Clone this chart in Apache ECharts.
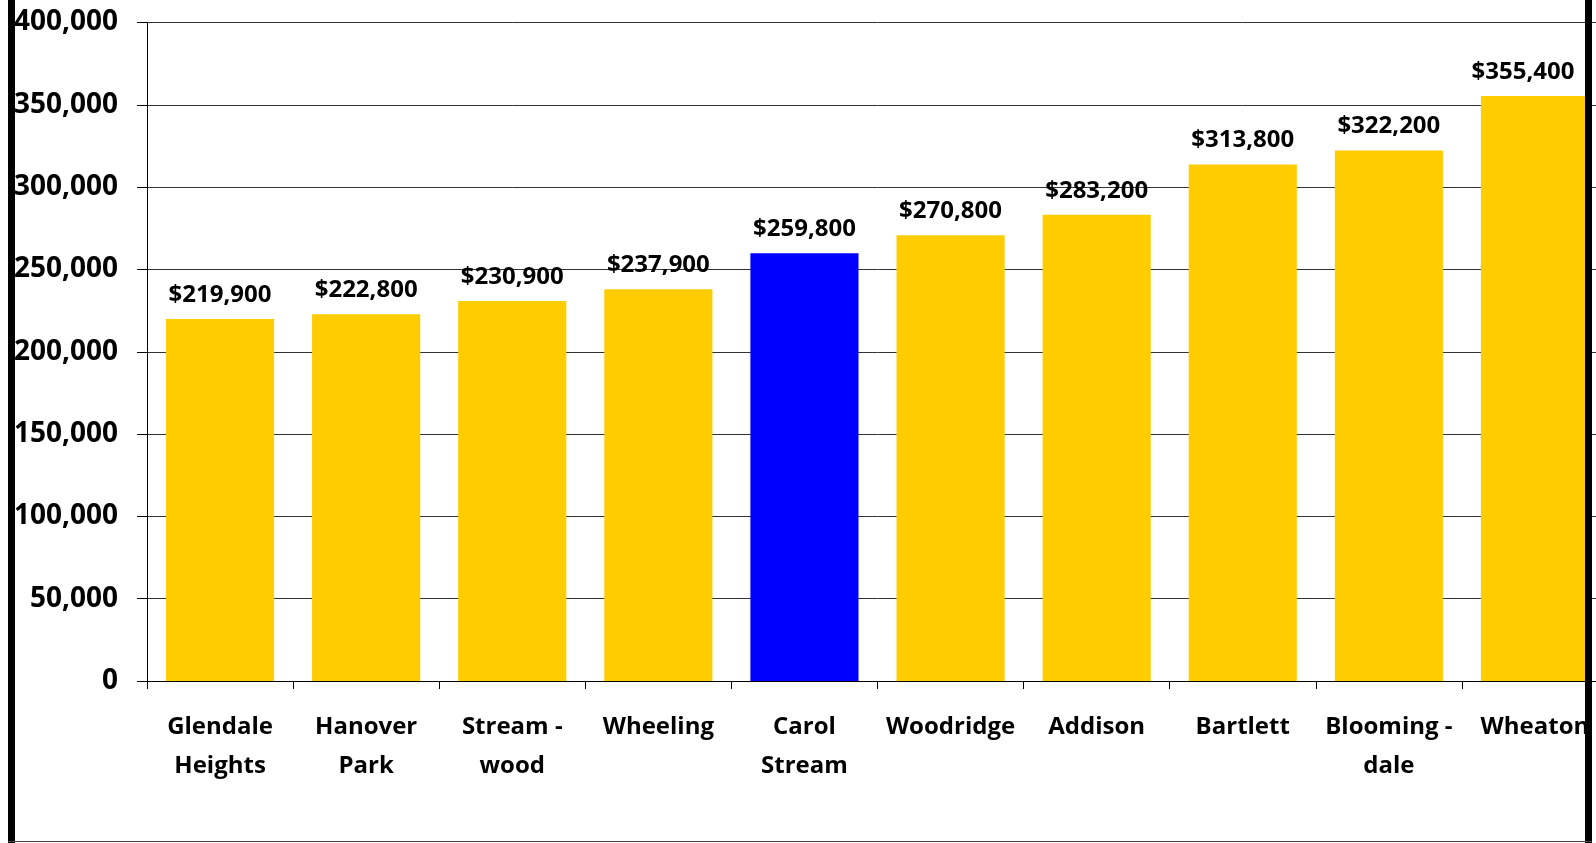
<!DOCTYPE html>
<html>
<head>
<meta charset="utf-8">
<style>
  html, body { margin: 0; padding: 0; background: #fff; }
  #wrap { position: relative; width: 1596px; height: 843px; overflow: hidden; }
  #chart { position: absolute; left: 0; top: 0; width: 1610px; height: 843px; }
  .edge { position: absolute; background: #000; z-index: 5; }
</style>
<script src="https://cdn.jsdelivr.net/npm/echarts@6/dist/echarts.min.js"></script>
</head>
<body>
<div id="wrap">
  <div id="chart"></div>
  <div class="edge" style="left:8px;top:0;width:7px;height:843px;"></div>
  <div class="edge" style="left:1585px;top:0;width:7px;height:843px;"></div>
  <div class="edge" style="left:8px;top:841px;width:1584px;height:1px;background:#444;"></div>
</div>
<script>
// Median home value by community
const communities = [
  'Glendale\nHeights', 'Hanover\nPark', 'Stream -\nwood', 'Wheeling', 'Carol\nStream',
  'Woodridge', 'Addison', 'Bartlett', 'Blooming -\ndale', 'Wheaton'
];
const medianValues = [219900, 222800, 230900, 237900, 259800, 270800, 283200, 313800, 322200, 355400];
const highlighted = 'Carol\nStream';
const yTicks = { min: 0, max: 400000, interval: 50000 };

const gold = '#FFCC00';
const blue = '#0000FF';
const fontFamily = '"Open Sans", Lato, sans-serif';

const fmt = v => v.toLocaleString('en-US');

const barData = medianValues.map((v, i) => {
  const item = {
    value: v,
    itemStyle: { color: communities[i] === highlighted ? blue : gold }
  };
  // last label is nudged left so it stays inside the frame
  if (i === medianValues.length - 1) item.label = { offset: [-12, 0] };
  return item;
});

const chart = echarts.init(document.getElementById('chart'), null, { renderer: 'canvas' });
chart.setOption({
  animation: false,
  backgroundColor: '#fff',
  grid: { left: 147, top: 22.5, bottom: 162, right: 2, outerBoundsMode: 'none' },
  xAxis: {
    type: 'category',
    data: communities,
    boundaryGap: true,
    axisLine: { show: true, lineStyle: { color: '#000', width: 1 } },
    axisTick: { show: true, alignWithLabel: false, length: 8, lineStyle: { color: '#000' } },
    axisLabel: {
      interval: 0,
      margin: 27,
      color: '#000',
      fontFamily,
      fontWeight: 'bold',
      fontSize: 24,
      lineHeight: 39
    }
  },
  yAxis: {
    type: 'value',
    min: yTicks.min,
    max: yTicks.max,
    interval: yTicks.interval,
    axisLine: { show: true, lineStyle: { color: '#000', width: 1 } },
    axisTick: { show: true, inside: false, length: 10, lineStyle: { color: '#000' } },
    splitLine: { show: true, lineStyle: { color: '#333', width: 1 } },
    axisLabel: {
      margin: 29,
      color: '#000',
      fontFamily,
      fontWeight: 'bold',
      fontSize: 28,
      formatter: v => fmt(v)
    }
  },
  series: [{
    type: 'bar',
    data: barData,
    barCategoryGap: '26%',
    label: {
      show: true,
      position: 'top',
      distance: 12,
      color: '#000',
      fontFamily,
      fontWeight: 'bold',
      fontSize: 24,
      formatter: p => '$' + fmt(p.value)
    }
  }]
});
</script>
</body>
</html>
